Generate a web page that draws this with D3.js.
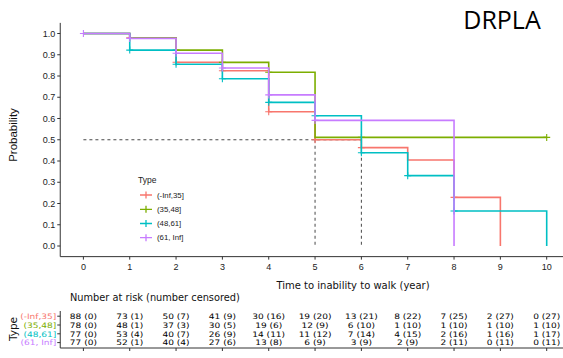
<!DOCTYPE html>
<html><head><meta charset="utf-8">
<script src="https://cdn.jsdelivr.net/npm/d3@7"></script>
<style>body{margin:0;background:#fff}svg{display:block}</style>
</head><body>
<svg id="c" width="563" height="358"></svg>
<script>
// ---- data ----
const groups = ["(-Inf,35]", "(35,48]", "(48,61]", "(61, Inf]"];
const colors = ["#F8766D", "#7CAE00", "#00BFC4", "#C77CFF"];
const redTimes = [0,1,2,3,4,5,6,7,8,9];
const redSurv  = [1,0.98,0.865,0.825,0.632,0.5,0.463,0.405,0.229,0];
const redEnd = 9;
const greenTimes = [0,1,2,3,4,5];
const greenSurv  = [1,0.98,0.922,0.864,0.818,0.511];
const greenEnd = 10;
const cyanTimes = [0,1,2,3,4,5,6,7,8,10];
const cyanSurv  = [1,0.922,0.855,0.787,0.676,0.613,0.439,0.331,0.165,0];
const cyanEnd = 10;
const purpleTimes = [0,1,2,3,4,5,8];
const purpleSurv  = [1,0.977,0.907,0.838,0.711,0.591,0];
const purpleEnd = 8;
const redCens = [1,2,3,4,5,6,8];
const greenCens = [2,3,4,6,10];
const cyanCens = [1,2,3,4,5,6,7,8];
const purpleCens = [0,1,2,3,4,5];
const medianTimes = [5,6];
const xTicks = [0,1,2,3,4,5,6,7,8,9,10];
const yTicks = [0,0.1,0.2,0.3,0.4,0.5,0.6,0.7,0.8,0.9,1.0];
const riskRed = [88,73,50,41,30,19,13,8,7,2,0];
const censRed = [0,1,7,9,16,20,21,22,25,27,27];
const riskGreen = [78,48,37,30,19,12,6,1,1,1,1];
const censGreen = [0,1,3,5,6,9,10,10,10,10,10];
const riskCyan = [77,53,40,26,14,11,7,4,2,1,1];
const censCyan = [0,4,7,9,11,12,14,15,16,16,17];
const riskPurple = [77,52,40,27,13,6,3,2,2,0,0];
const censPurple = [0,1,4,6,8,9,9,9,11,11,11];

const series = [
  {t: redTimes, s: redSurv, end: redEnd, c: redCens},
  {t: greenTimes, s: greenSurv, end: greenEnd, c: greenCens},
  {t: cyanTimes, s: cyanSurv, end: cyanEnd, c: cyanCens},
  {t: purpleTimes, s: purpleSurv, end: purpleEnd, c: purpleCens}
];
const risk = [riskRed, riskGreen, riskCyan, riskPurple];
const cens = [censRed, censGreen, censCyan, censPurple];

// ---- scales ----
const svg = d3.select("#c");
const x = d3.scaleLinear().domain([0,10]).range([83.4,546.7]);
const y = d3.scaleLinear().domain([0,1]).range([246,33.5]);
const axisCol = "#333";
const sansA = "'Liberation Sans', Arial, sans-serif";
const sansV = "'DejaVu Sans', Verdana, sans-serif";

// axes lines
svg.append("line").attr("x1", x(-0.5)).attr("x2", x(10.5)).attr("y1", y(-0.05)).attr("y2", y(-0.05)).attr("stroke", axisCol).attr("stroke-width",1);
svg.append("line").attr("x1", x(-0.5)).attr("x2", x(-0.5)).attr("y1", y(-0.05)).attr("y2", y(1.05)).attr("stroke", axisCol).attr("stroke-width",1);

const gy = svg.append("g");
yTicks.forEach(v => {
  gy.append("line").attr("x1", x(-0.5)-3).attr("x2", x(-0.5)).attr("y1", y(v)).attr("y2", y(v)).attr("stroke", axisCol);
  gy.append("text").attr("x", x(-0.5)-5).attr("y", y(v)).attr("dy","0.35em").attr("text-anchor","end")
    .attr("font-family", sansA).attr("font-size", 9).attr("fill","#222").text(v.toFixed(1));
});
const gx = svg.append("g");
xTicks.forEach(v => {
  gx.append("line").attr("x1", x(v)).attr("x2", x(v)).attr("y1", y(-0.05)).attr("y2", y(-0.05)+3).attr("stroke", axisCol);
  gx.append("text").attr("x", x(v)).attr("y", 269.5).attr("text-anchor","middle")
    .attr("font-family", sansA).attr("font-size", 9).attr("fill","#222").text(v);
});

svg.append("text").attr("transform","translate(17,135) rotate(-90)").attr("text-anchor","middle")
  .attr("font-family", sansA).attr("font-size", 11.5).attr("fill","#111").text("Probability");
svg.append("text").attr("x", 353).attr("y", 288.5).attr("text-anchor","middle")
  .attr("font-family", sansV).attr("font-size", 10).attr("fill","#111").text("Time to inability to walk (year)");

// median dashed lines
svg.append("line").attr("x1", x(0)).attr("x2", x(d3.max(medianTimes))).attr("y1", y(0.5)).attr("y2", y(0.5))
  .attr("stroke","#333").attr("stroke-width",0.9).attr("stroke-dasharray","3,3");
medianTimes.forEach(m => {
  svg.append("line").attr("x1", x(m)).attr("x2", x(m)).attr("y1", y(0.5)).attr("y2", y(0))
    .attr("stroke","#333").attr("stroke-width",0.9).attr("stroke-dasharray","3,3");
});

// step curves
function survAt(sr, t){ let v = 1; sr.t.forEach((tt,i)=>{ if (tt <= t) v = sr.s[i]; }); return v; }
series.forEach((sr, gi) => {
  const pts = sr.t.map((t,i)=>[t, sr.s[i]]);
  pts.push([sr.end, sr.s[sr.s.length-1]]);
  const line = d3.line().x(d=>x(d[0])).y(d=>y(d[1])).curve(d3.curveStepAfter);
  svg.append("path").attr("d", line(pts)).attr("fill","none").attr("stroke", colors[gi]).attr("stroke-width",1.6);
  sr.c.forEach(t => {
    const v = survAt(sr, t);
    svg.append("path").attr("d", `M${x(t)-3.5},${y(v)}h7M${x(t)},${y(v)-3.5}v7`)
      .attr("stroke", colors[gi]).attr("stroke-width",1.1).attr("fill","none");
  });
});

// legend
svg.append("text").attr("x",138).attr("y",183).attr("font-family", sansA).attr("font-size",8.5).attr("fill","#222").text("Type");
const legY = [195, 209.3, 223.5, 237.7];
groups.forEach((g, gi) => {
  const ly = legY[gi];
  svg.append("path").attr("d", `M140,${ly}h12M146,${ly-3.5}v7`).attr("stroke", colors[gi]).attr("stroke-width",1.3).attr("fill","none");
  svg.append("text").attr("x",157).attr("y",ly).attr("dy","0.35em").attr("font-family", sansA).attr("font-size",7.8).attr("fill","#222").text(g);
});

// title
svg.append("text").attr("x", 502).attr("y", 28.5).attr("text-anchor","middle")
  .attr("font-family","'Open Sans', Lato, sans-serif").attr("font-size", 25).attr("fill","#000").text("DRPLA");

// risk table
svg.append("text").attr("x", 70).attr("y", 300.5).attr("font-family", sansV).attr("font-size", 9.8).attr("fill","#111")
  .text("Number at risk (number censored)");
const rowY = [316.2, 325.0, 333.8, 342.6];
const tableBottom = 348;
const tFont = 7.5, widen = 1.2;
function stretch(sel){ sel.each(function(){ const L = this.getComputedTextLength(); this.setAttribute("textLength", (L*widen).toFixed(2)); this.setAttribute("lengthAdjust","spacingAndGlyphs"); }); }
svg.append("line").attr("x1", x(-0.5)).attr("x2", x(-0.5)).attr("y1", 311).attr("y2", tableBottom).attr("stroke", axisCol);
svg.append("line").attr("x1", x(-0.5)).attr("x2", x(10.5)).attr("y1", tableBottom).attr("y2", tableBottom).attr("stroke", axisCol);
xTicks.forEach(v => {
  svg.append("line").attr("x1", x(v)).attr("x2", x(v)).attr("y1", tableBottom).attr("y2", tableBottom+3).attr("stroke", axisCol);
});
groups.forEach((g, gi) => {
  svg.append("line").attr("x1", x(-0.5)-3).attr("x2", x(-0.5)).attr("y1", rowY[gi]).attr("y2", rowY[gi]).attr("stroke", axisCol);
  svg.append("text").attr("x", x(-0.5)-4).attr("y", rowY[gi]).attr("dy","0.36em").attr("text-anchor","end")
    .attr("font-family", sansV).attr("font-size", tFont).attr("fill", colors[gi]).text(g).call(stretch);
  xTicks.forEach((t, ti) => {
    svg.append("text").attr("x", x(t)).attr("y", rowY[gi]).attr("dy","0.36em").attr("text-anchor","middle")
      .attr("font-family", sansV).attr("font-size", tFont).attr("fill","#000")
      .text(`${risk[gi][ti]} (${cens[gi][ti]})`).call(stretch);
  });
});
svg.append("text").attr("transform","translate(17,329) rotate(-90)").attr("text-anchor","middle")
  .attr("font-family", sansV).attr("font-size", 10.5).attr("fill","#111").text("Type");
</script>
</body></html>
